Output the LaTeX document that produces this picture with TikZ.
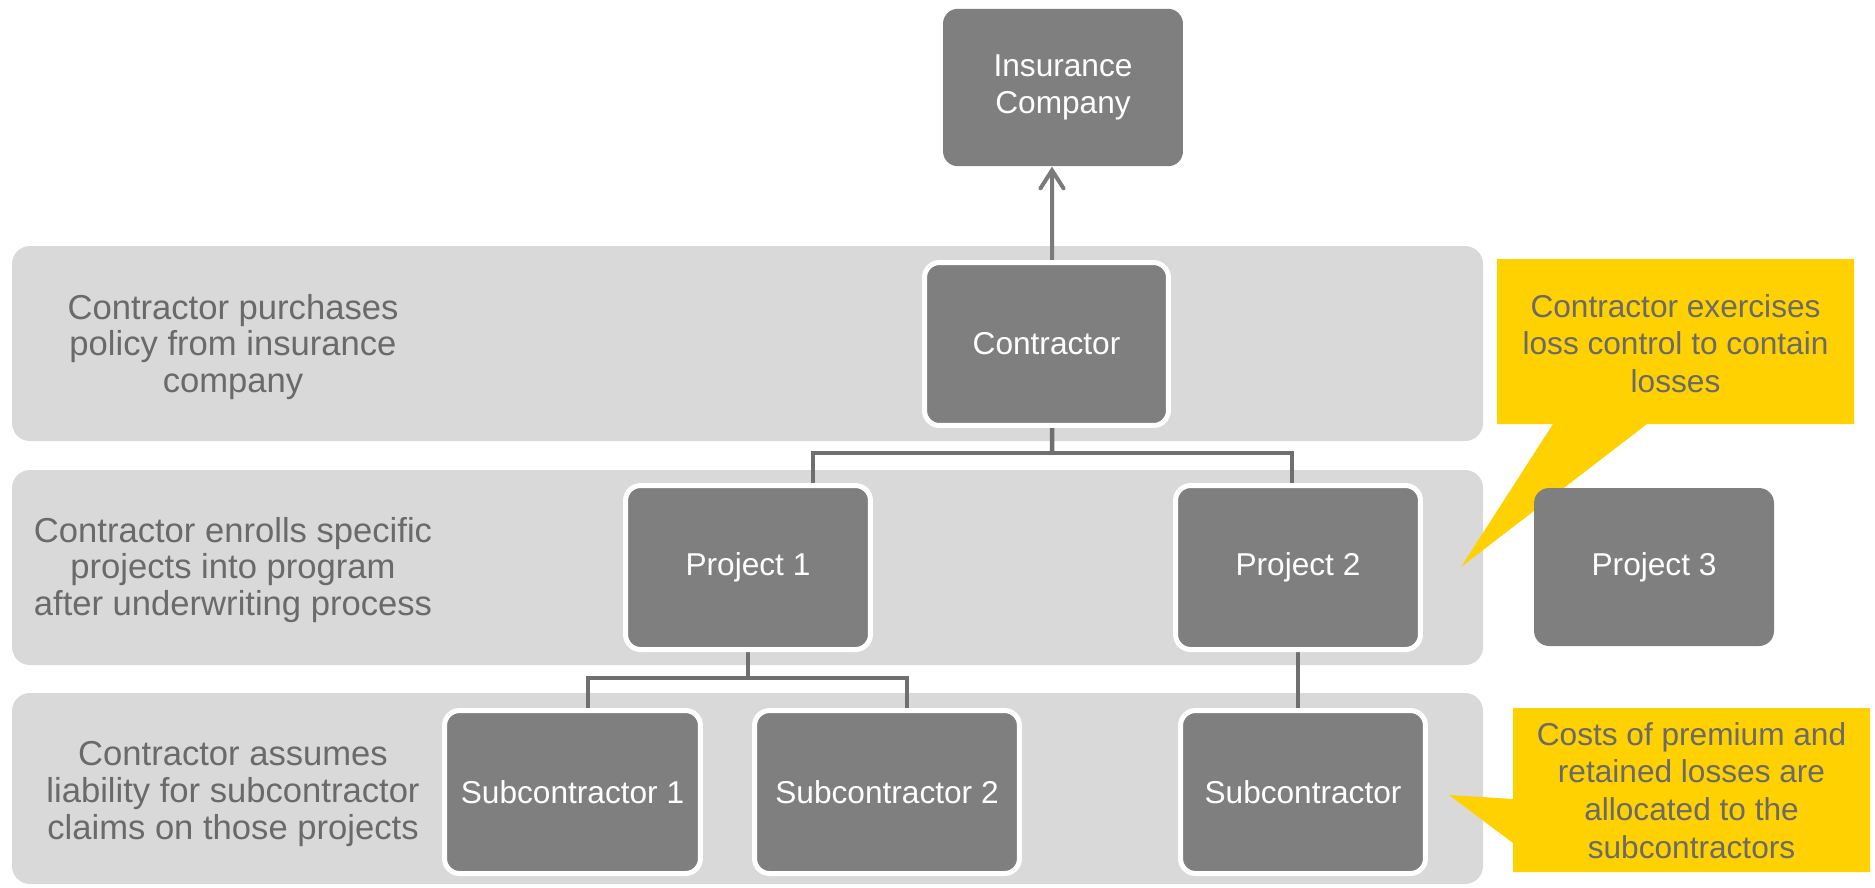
\documentclass[tikz,border=0pt]{standalone}
\usepackage{fontspec}
\setmainfont{Liberation Sans}
\usetikzlibrary{arrows.meta}
\definecolor{bandg}{HTML}{D9D9D9}
\definecolor{boxg}{HTML}{7F7F7F}
\definecolor{linkg}{HTML}{6F6F6F}
\definecolor{arrg}{HTML}{7A7A7A}
\definecolor{txtg}{HTML}{6A6A6A}
\definecolor{callout}{HTML}{FFD100}
\pgfdeclarelayer{bg}
\pgfsetlayers{bg,main}
\begin{document}
\begin{tikzpicture}[x=0.02cm,y=-0.02cm,
  box/.style={fill=boxg, text=white, rounded corners=0.3cm, font=\fontsize{18}{21}\selectfont, align=center, inner sep=0pt},
  plainbox/.style={box, minimum width=4.8cm, minimum height=3.15cm},
  bbox/.style={box, draw=white, line width=0.1cm, minimum height=3.26cm},
  side/.style={text=txtg, align=center, font=\fontsize{19.7}{21}\selectfont, inner sep=0pt},
  calltext/.style={text=txtg, align=center, font=\fontsize{18}{21.5}\selectfont, inner sep=0pt},
  bandbox/.style={fill=bandg, rounded corners=0.36cm},
  link/.style={draw=linkg, line width=0.09cm},
  arr/.style={draw=arrg, line width=0.08cm, line cap=round, -{Straight Barb[length=0.36cm, width=0.46cm, line cap=round]}}]
\useasboundingbox (0,0) rectangle (1875,887);

% nodes
\node[plainbox] (ins) at (1063,87.5) {Insurance\\Company};
\node[bbox, minimum width=4.88cm] (con) at (1046.5,344) {Contractor};
\node[bbox, minimum width=4.9cm, minimum height=3.28cm] (p1) at (748,567.5) {Project 1};
\node[bbox, minimum width=4.9cm, minimum height=3.28cm] (p2) at (1298,567.5) {Project 2};
\node[plainbox, minimum height=3.16cm] (p3) at (1654,567) {Project 3};
\node[bbox, minimum width=5.12cm] (s1) at (572.5,792) {Subcontractor 1};
\node[bbox, minimum width=5.3cm] (s2) at (887,792) {Subcontractor 2};
\node[bbox, minimum width=4.9cm] (s3) at (1303,792) {Subcontractor};

% side texts
\node[side] (t1) at (233,347) {Contractor purchases\\policy from insurance\\company};
\node[side] (t2) at (233,570) {Contractor enrolls specific\\projects into program\\after underwriting process};
\node[side] (t3) at (233,794) {Contractor assumes\\liability for subcontractor\\claims on those projects};

% callout texts
\node[calltext] (c1) at (1675.5,343.5) {Contractor exercises\\loss control to contain\\losses};
\node[calltext] (c2) at (1691.5,790.5) {Costs of premium and\\retained losses are\\allocated to the\\subcontractors};

\begin{pgfonlayer}{bg}
  \fill[bandbox] (12,246) rectangle (1483,441);
  \fill[bandbox] (12,470) rectangle (1483,665);
  \fill[bandbox] (12,693) rectangle (1483,884);
  \fill[callout] (1497,259) -- (1854,259) -- (1854,424) -- (1647,424) -- (1461,567) -- (1553,424) -- (1497,424) -- cycle;
  \fill[callout] (1513,708) -- (1870,708) -- (1870,872) -- (1513,872) -- (1513,843) -- (1449,795) -- (1513,799) -- cycle;
  % connectors
  \draw[arr] ([xshift=0.11cm]con.north) -- ([xshift=-0.22cm]ins.south);
  \coordinate (b1) at (1052,453);
  \draw[link] ([xshift=0.11cm]con.south) -- (b1);
  \draw[link] ([xshift=1.3cm]p1.north) |- (b1) -| ([xshift=-0.12cm]p2.north);
  \coordinate (b2) at (748,678);
  \draw[link] (p1.south) -- (b2);
  \draw[link] ([xshift=0.31cm]s1.north) |- (b2) -| ([xshift=0.4cm]s2.north);
  \draw[link] (p2.south) -- (p2.south |- s3.north);
\end{pgfonlayer}
\end{tikzpicture}
\end{document}
